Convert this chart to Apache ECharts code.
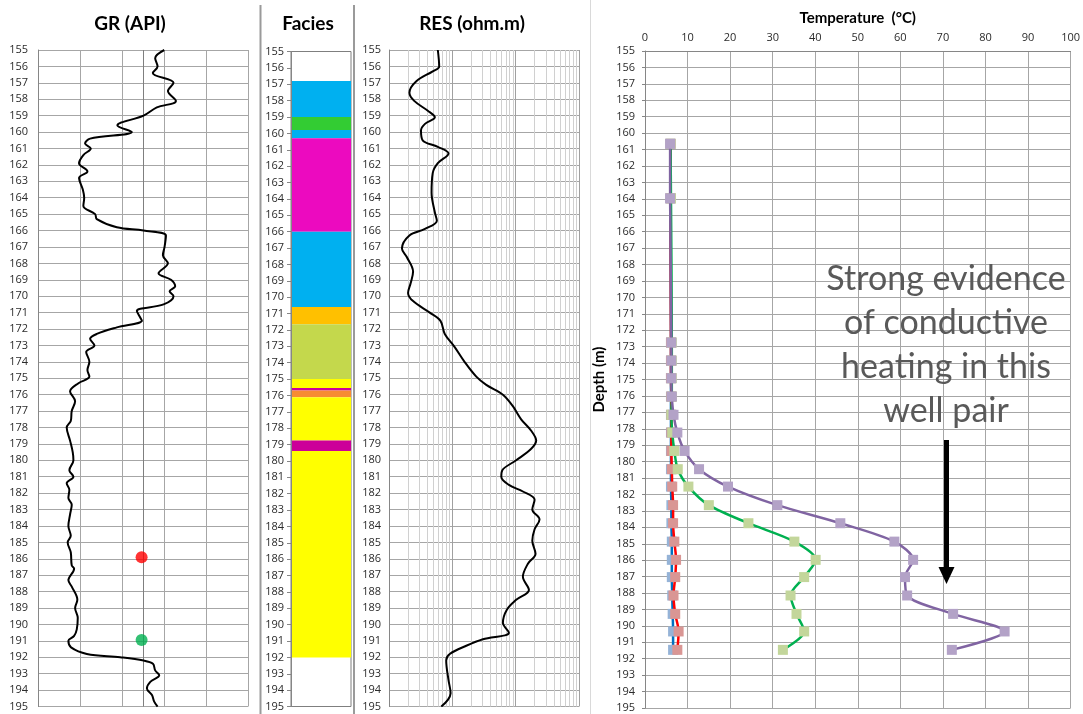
<!DOCTYPE html>
<html>
<head>
<meta charset="utf-8">
<script src="https://cdn.jsdelivr.net/npm/echarts@6/dist/echarts.min.js"></script>
<style>
html,body{margin:0;padding:0;background:#fff;}
#chart{width:1083px;height:714px;}
</style>
</head>
<body>
<div id="chart"></div>
<script>
// ---------------- DATA ----------------
const grDepth = [155.0,155.5,156.0,156.4,157.0,157.5,158.1,158.5,159.0,159.6,160.0,160.4,160.7,161.0,161.4,161.9,162.4,162.8,163.5,164.0,164.5,165.0,165.3,165.8,166.0,166.3,167.0,167.5,168.0,168.6,169.0,169.4,169.7,170.0,170.5,170.9,171.3,171.5,171.9,172.3,172.6,173.0,173.4,174.0,174.5,174.9,175.3,175.8,176.4,177.0,177.6,178.0,178.8,179.5,180.0,180.6,181.0,181.4,181.8,182.3,182.7,183.3,184.0,184.6,185.0,185.6,186.4,186.6,187.3,187.7,188.5,189.0,189.6,190.3,190.7,191.0,191.4,191.8,192.0,192.2,192.4,192.8,193.1,193.5,193.9,194.3,194.7,195.0];
const grValue = [90.2,83.7,85.4,82.0,96.8,92.8,98.5,84.9,75.4,56.7,67.0,37.2,33.6,37.7,32.4,29.3,35.3,29.3,32.0,33.0,32.4,40.8,42.0,56.3,75.4,91.4,90.4,89.2,92.8,86.1,95.0,98.0,94.0,96.8,89.7,70.6,73.0,74.2,56.3,42.0,37.2,40.3,34.4,36.7,35.3,36.7,28.9,22.9,26.5,24.1,23.4,20.5,22.9,24.8,25.3,22.4,25.3,20.5,22.4,21.7,24.1,22.9,21.7,23.4,21.2,23.4,24.1,25.8,21.7,24.1,28.1,26.5,28.4,27.7,25.8,21.7,23.6,34.9,58.7,75.4,82.1,83.7,86.6,80.2,77.8,81.4,83.0,85.4];

// sample markers on GR track
const markerDepth = [185.9, 190.95];
const markerGR = [74, 74];

// facies intervals (top, base, code)
const faciesTop  = [156.8, 159.0, 159.8, 160.3, 166.0, 170.6, 171.65, 175.0, 175.55, 175.7, 176.12, 178.75, 179.4];
const faciesBase = [159.0, 159.8, 160.3, 166.0, 170.6, 171.65, 175.0, 175.55, 175.7, 176.12, 178.75, 179.4, 192.0];
const faciesCode = ['C','G','C','M','C','O','L','Y','P','R','Y','P','Y'];

const resDepth = [155.0,156.0,156.3,156.9,157.6,158.1,158.7,159.1,159.5,159.9,160.5,160.9,161.3,161.9,162.5,163.7,164.9,165.4,165.9,166.3,167.1,167.6,168.5,169.2,169.8,170.3,171.0,171.5,172.3,173.1,174.0,174.9,175.4,176.0,176.7,177.5,178.2,178.8,179.3,180.0,180.6,181.0,181.5,181.9,182.4,183.0,183.6,184.2,184.9,185.7,186.3,187.1,187.9,188.5,189.1,189.9,190.5,190.9,191.3,191.8,192.2,193.4,194.2,194.6,195.0];
const resValue = [5.9,6.2,4.9,2.7,2.1,2.5,4.1,5.3,3.7,3.2,3.4,5.9,8.7,5.9,4.9,4.7,5.3,5.7,3.7,2.1,1.6,1.9,2.4,2.2,2.0,2.4,4.4,6.5,7.6,10.9,15.6,23.9,34.3,62.9,90.3,122,176,211,176,102,61.5,59.3,78.2,130,199,183,238,199,183,206,156,130,162,102,72.6,62.9,78.2,30.4,16.6,9.1,8.0,8.7,9.4,8.5,6.7];

const tempDepth  = [160.65,163.97,172.75,173.85,174.92,176.04,177.15,178.23,179.35,180.46,181.52,182.65,183.75,184.87,185.98,187.03,188.15,189.27,190.34,191.46];
const tempBlue   = [6.0,6.0,6.1,6.1,6.1,6.1,6.1,6.1,6.1,6.1,6.1,6.2,6.2,6.3,6.3,6.3,6.4,6.5,6.6,6.6];
const tempRed    = [6.0,6.0,6.1,6.1,6.1,6.2,6.2,6.2,6.2,6.3,6.4,6.6,6.6,6.9,7.3,7.1,6.7,7.1,7.9,7.6];
const tempGreen  = [6.0,6.1,6.3,6.3,6.3,6.3,6.2,6.4,6.9,7.7,10.2,15.0,24.3,35.1,40.1,37.4,34.2,35.6,37.4,32.4];
const tempPurple = [5.9,5.9,6.2,6.2,6.2,6.3,6.7,7.6,9.3,12.7,19.5,31.1,45.9,58.6,63.0,61.1,61.6,72.4,84.5,72.1];

const depthMin = 155, depthMax = 195;
const resMinor = [2,3,4,5,6,7,8,9,20,30,40,50,60,70,80,90,200,300,400,500,600,700,800,900];

// ---------------- STYLES ----------------
const faciesColor = {C:'#00B0F0', G:'#33CC33', M:'#EC0ABF', O:'#FFC000', L:'#C4D84C', Y:'#FFFF00', P:'#CC0099', R:'#F78C32'};
const labelFont = {fontFamily:'Open Sans', fontSize:11, color:'#2b2b2b'};
const gridGray = '#A6A6A6';

function depthAxis(gridIndex, extra) {
  return Object.assign({
    type:'value', gridIndex, inverse:true, min:depthMin, max:depthMax, interval:1,
    axisLabel: Object.assign({margin:10}, labelFont),
    axisLine:{show:true, lineStyle:{color:'#868686'}},
    axisTick:{show:false},
    splitLine:{show:true, lineStyle:{color:gridGray, width:1}}
  }, extra || {});
}

const chart = echarts.init(document.getElementById('chart'), null, {renderer:'canvas'});

const option = {
  animation:false,
  backgroundColor:'#fff',
  grid:[
    {left:38, width:210, top:50, height:656.5},
    {left:291, width:60, top:51.5, height:655, show:true, backgroundColor:'#fff', borderColor:'#7F7F7F', borderWidth:1},
    {left:389, width:190, top:50, height:656.5},
    {left:645, width:432.5, top:51, height:657}
  ],
  xAxis:[
    {type:'value', gridIndex:0, min:0, max:150, interval:30,
     axisLabel:{show:false}, axisLine:{show:false}, axisTick:{show:false},
     splitLine:{show:true, lineStyle:{color:gridGray}}},
    {type:'value', gridIndex:1, min:0, max:1, show:false, splitLine:{show:false}},
    {type:'log', gridIndex:2, min:1, max:1000, logBase:10,
     axisLabel:{show:false}, axisLine:{show:false}, axisTick:{show:false},
     splitLine:{show:true, lineStyle:{color:'#A0A0A0'}}},
    {type:'value', gridIndex:3, position:'top', min:0, max:100, interval:10,
     name:'Temperature  (°C)', nameLocation:'middle', nameGap:25,
     nameTextStyle:{fontFamily:'Lato', fontWeight:'bold', fontSize:15, color:'#000'},
     axisLabel: Object.assign({margin:8}, labelFont),
     axisLine:{show:true, lineStyle:{color:'#868686'}}, axisTick:{show:false},
     splitLine:{show:true, lineStyle:{color:gridGray}}}
  ],
  yAxis:[
    depthAxis(0),
    depthAxis(1, {splitLine:{show:false}, axisTick:{show:true, length:4, inside:false, lineStyle:{color:'#868686'}}, axisLabel:Object.assign({margin:7}, labelFont), z:10}),
    depthAxis(2, {axisLabel:Object.assign({margin:8}, labelFont)}),
    depthAxis(3, {name:'Depth (m)', nameLocation:'middle', nameGap:38, nameRotate:90,
      nameTextStyle:{fontFamily:'Lato', fontWeight:'bold', fontSize:15, color:'#000'},
      axisTick:{show:true, length:3, lineStyle:{color:'#868686'}}})
  ],
  series:[
    {
      name:'GR', type:'line', xAxisIndex:0, yAxisIndex:0, z:3,
      data: grDepth.map((d,i)=>[grValue[i], d]),
      showSymbol:false, smooth:0.35,
      lineStyle:{color:'#000', width:2},
      markLine:{silent:true, symbol:'none', z:1, label:{show:false},
        lineStyle:{color:'#7F7F7F', width:1, type:'solid'},
        data:[{xAxis:75}]}
    },
    {
      name:'Samples', type:'scatter', xAxisIndex:0, yAxisIndex:0, z:4,
      symbolSize:12,
      data: markerDepth.map((d,i)=>({value:[markerGR[i], d], itemStyle:{color: i===0 ? '#FF0000' : '#00B050'}}))
    },
    {
      name:'Facies', type:'custom', xAxisIndex:1, yAxisIndex:1, z:3,
      data: faciesTop.map((t,i)=>[t, faciesBase[i], i]),
      encode:{y:[0,1]},
      renderItem:function(params, api){
        const p1 = api.coord([0, api.value(0)]);
        const p2 = api.coord([1, api.value(1)]);
        return {type:'rect', shape:{x:p1[0], y:p1[1], width:p2[0]-p1[0], height:p2[1]-p1[1]},
          style:{fill: faciesColor[faciesCode[params.dataIndex]], stroke:null}};
      }
    },
    {
      name:'RES', type:'line', xAxisIndex:2, yAxisIndex:2, z:3,
      data: resDepth.map((d,i)=>[resValue[i], d]),
      showSymbol:false, smooth:0.35,
      lineStyle:{color:'#000', width:2},
      markLine:{silent:true, symbol:'none', z:1, label:{show:false},
        lineStyle:{color:'#D0D0D0', width:1, type:'solid'},
        data: resMinor.map(v=>({xAxis:v}))}
    },
    {
      name:'T1', type:'line', xAxisIndex:3, yAxisIndex:3, z:3,
      data: tempDepth.map((d,i)=>[tempBlue[i], d]),
      smooth:0.3, symbol:'rect', symbolSize:10,
      itemStyle:{color:'#95B3D7'}, lineStyle:{color:'#0070C0', width:2.5}
    },
    {
      name:'T2', type:'line', xAxisIndex:3, yAxisIndex:3, z:4,
      data: tempDepth.map((d,i)=>[tempRed[i], d]),
      smooth:0.3, symbol:'rect', symbolSize:10,
      itemStyle:{color:'#D99694'}, lineStyle:{color:'#FF0000', width:2.5}
    },
    {
      name:'T3', type:'line', xAxisIndex:3, yAxisIndex:3, z:5,
      data: tempDepth.map((d,i)=>[tempGreen[i], d]),
      smooth:0.3, symbol:'rect', symbolSize:10,
      itemStyle:{color:'#C3D69B'}, lineStyle:{color:'#00B050', width:2.5}
    },
    {
      name:'T4', type:'line', xAxisIndex:3, yAxisIndex:3, z:6,
      data: tempDepth.map((d,i)=>[tempPurple[i], d]),
      smooth:0.3, symbol:'rect', symbolSize:10,
      itemStyle:{color:'#B3A2C7'}, lineStyle:{color:'#8064A2', width:2.5}
    }
  ],
  graphic:[
    {type:'text', x:130, y:24, style:{text:'GR (API)', font:'bold 19px Lato', fill:'#000', align:'center', verticalAlign:'middle'}},
    {type:'text', x:308, y:24, style:{text:'Facies', font:'bold 19px Lato', fill:'#000', align:'center', verticalAlign:'middle'}},
    {type:'text', x:472, y:24, style:{text:'RES (ohm.m)', font:'bold 19px Lato', fill:'#000', align:'center', verticalAlign:'middle'}},
    {type:'line', shape:{x1:260.5, y1:5, x2:260.5, y2:714}, style:{stroke:'#9A9A9A', lineWidth:2}},
    {type:'line', shape:{x1:354, y1:5, x2:354, y2:714}, style:{stroke:'#9A9A9A', lineWidth:2}},
    {type:'line', shape:{x1:590.5, y1:0, x2:590.5, y2:714}, style:{stroke:'#D9D9D9', lineWidth:1}},
    {type:'text', x:946, y:257, z:20, style:{text:'Strong evidence\nof conductive\nheating in this\nwell pair', font:'34px Lato', fill:'#595959', align:'center', verticalAlign:'top', lineHeight:44}},
    {type:'line', z:20, shape:{x1:946.5, y1:440, x2:946.5, y2:570}, style:{stroke:'#000', lineWidth:5}},
    {type:'polygon', z:20, shape:{points:[[938.5,567],[954.5,567],[946.5,584]]}, style:{fill:'#000'}}
  ]
};
chart.setOption(option);
</script>
</body>
</html>
